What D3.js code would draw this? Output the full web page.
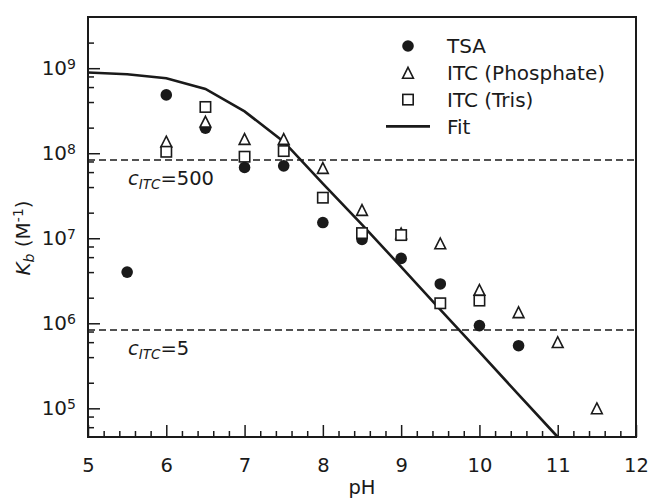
<!DOCTYPE html>
<html><head><meta charset="utf-8">
<script src="https://cdn.jsdelivr.net/npm/d3@7"></script>
<style>
body{margin:0;background:#fff}
text{font-family:"DejaVu Sans",sans-serif;fill:#1a1a1a}
</style>
</head><body>
<svg id="chart" width="650" height="498"></svg>
<script>
// ---- data ----
const tsaPH  = [5.5, 6, 6.5, 7, 7.5, 8, 8.5, 9, 9.5, 10, 10.5];
const tsaKb  = [4.0e6, 4.85e8, 1.97e8, 6.8e7, 7.1e7, 1.53e7, 9.7e6, 5.8e6, 2.9e6, 9.4e5, 5.45e5];
const phosPH = [6, 6.5, 7, 7.5, 8, 8.5, 9, 9.5, 10, 10.5, 11, 11.5];
const phosKb = [1.37e8, 2.35e8, 1.47e8, 1.47e8, 6.7e7, 2.15e7, 1.14e7, 8.7e6, 2.47e6, 1.35e6, 6.0e5, 1.0e5];
const trisPH = [6, 6.5, 7, 7.5, 8, 8.5, 9, 9.5, 10];
const trisKb = [1.04e8, 3.5e8, 9.1e7, 1.06e8, 3.0e7, 1.15e7, 1.09e7, 1.72e6, 1.85e6];
const fitPH  = [5, 5.5, 6, 6.5, 7, 7.5, 8, 8.5, 9, 9.5, 10, 10.5, 11];
const fitKb  = [8.9e8, 8.5e8, 7.6e8, 5.7e8, 3.1e8, 1.37e8, 4.4e7, 1.45e7, 4.6e6, 1.45e6, 4.6e5, 1.45e5, 4.6e4];
const cValues = [500, 5];
const cKb     = [8.33e7, 8.33e5];
const xTickValues = [5, 6, 7, 8, 9, 10, 11, 12];
const yTickExps   = [5, 6, 7, 8, 9];
const legendLabels = ["TSA", "ITC (Phosphate)", "ITC (Tris)", "Fit"];

// ---- layout ----
const W = 650, H = 498;
const m = {left: 88, right: 14, top: 17, bottom: 61};
const ink = "#1a1a1a";
const svg = d3.select("#chart");

const x = d3.scaleLinear().domain([5, 12]).range([m.left, W - m.right]);
const y = d3.scaleLog().domain([4.6e4, 4e9]).range([H - m.bottom, m.top]);

// minor ticks
const xMinor = d3.range(5, 12.0001, 0.2).map(v => +v.toFixed(2)).filter(v => Math.abs(v - Math.round(v)) > 1e-6);
const yMinor = [];
for (let e = 4; e <= 9; e++) for (const k of [2, 4, 6, 8]) {
  const v = k * Math.pow(10, e);
  if (v > y.domain()[0] && v < y.domain()[1]) yMinor.push(v);
}

// bottom axis
const gx = svg.append("g").attr("transform", `translate(0,${H - m.bottom})`)
  .call(d3.axisBottom(x).tickValues(xTickValues).tickSize(-12).tickSizeOuter(0).tickPadding(21).tickFormat(d3.format("d")));
svg.append("g").attr("transform", `translate(0,${H - m.bottom})`)
  .call(d3.axisBottom(x).tickValues(xMinor).tickSize(-6).tickSizeOuter(0).tickFormat(""));

// left axis
const gy = svg.append("g").attr("transform", `translate(${m.left},0)`)
  .call(d3.axisLeft(y).tickValues(yTickExps.map(e => Math.pow(10, e))).tickSize(-12).tickSizeOuter(0).tickPadding(12).tickFormat(""));
svg.append("g").attr("transform", `translate(${m.left},0)`)
  .call(d3.axisLeft(y).tickValues(yMinor).tickSize(-6).tickSizeOuter(0).tickFormat(""));

svg.selectAll(".domain").remove();
svg.selectAll(".tick line").attr("stroke", ink).attr("stroke-width", 1.5);
gx.selectAll("text").attr("font-size", 19.5).attr("fill", ink).style("font-family", "DejaVu Sans");

gy.selectAll(".tick text").each(function(d) {
  const t = d3.select(this).attr("font-size", 20).attr("fill", ink).style("font-family", "DejaVu Sans");
  t.text("10");
  t.append("tspan").attr("font-size", 14).attr("dy", "-0.45em").text(String(Math.round(Math.log10(d))));
});

// frame
svg.append("rect").attr("x", m.left).attr("y", m.top)
  .attr("width", W - m.left - m.right).attr("height", H - m.top - m.bottom)
  .attr("fill", "none").attr("stroke", ink).attr("stroke-width", 2);

// axis titles
svg.append("text").attr("x", x(8.5)).attr("y", 494).attr("text-anchor", "middle")
  .attr("font-size", 19.5).text("pH");
const yl = svg.append("text").attr("transform", `translate(30,238) rotate(-90)`)
  .attr("text-anchor", "middle").attr("font-size", 20);
yl.append("tspan").attr("font-style", "italic").text("K");
yl.append("tspan").attr("font-style", "italic").attr("font-size", 14).attr("dy", "0.3em").text("b");
yl.append("tspan").attr("dy", "-0.2em").text(" (M");
yl.append("tspan").attr("font-size", 14).attr("dy", "-0.5em").text("-1");
yl.append("tspan").attr("dy", "0.35em").text(")");

// c_ITC dashed lines
const plot = svg.append("g");
cKb.forEach((v, i) => {
  plot.append("line").attr("x1", m.left).attr("x2", W - m.right)
    .attr("y1", y(v)).attr("y2", y(v))
    .attr("stroke", ink).attr("stroke-width", 1.6).attr("stroke-dasharray", "7,4");
  const t = plot.append("text").attr("x", 128).attr("y", y(v) + 25).attr("font-size", 19.5);
  t.append("tspan").attr("font-style", "italic").text("c");
  t.append("tspan").attr("font-style", "italic").attr("font-size", 13.5).attr("dy", 4).text("ITC");
  t.append("tspan").attr("dy", -4).text("=" + cValues[i]);
});

// fit line
const fitData = fitPH.map((p, i) => [p, fitKb[i]]);
plot.append("path").datum(fitData)
  .attr("d", d3.line().x(d => x(d[0])).y(d => y(d[1])))
  .attr("fill", "none").attr("stroke", ink).attr("stroke-width", 2.6);

// markers
const triPath = s => `M0,${-s}L${s},${s}L${-s},${s}Z`;
function drawCircles(g, px, py) {
  g.append("circle").attr("cx", px).attr("cy", py).attr("r", 5.8).attr("fill", ink);
}
function drawTri(g, px, py) {
  g.append("path").attr("transform", `translate(${px},${py})`).attr("d", triPath(5.4))
    .attr("fill", "#fff").attr("stroke", ink).attr("stroke-width", 1.6).attr("stroke-linejoin", "miter");
}
function drawSq(g, px, py) {
  g.append("rect").attr("x", px - 5.2).attr("y", py - 5.2).attr("width", 10.4).attr("height", 10.4)
    .attr("fill", "#fff").attr("stroke", ink).attr("stroke-width", 1.6);
}
tsaPH.forEach((p, i) => drawCircles(plot, x(p), y(tsaKb[i])));
phosPH.forEach((p, i) => drawTri(plot, x(p), y(phosKb[i])));
trisPH.forEach((p, i) => drawSq(plot, x(p), y(trisKb[i])));

// legend
const lg = svg.append("g");
const ly0 = 46, lstep = 26.8, lmx = 408, ltx = 447;
legendLabels.forEach((lab, i) => {
  const yy = ly0 + i * lstep;
  if (i === 0) drawCircles(lg, lmx, yy);
  if (i === 1) drawTri(lg, lmx, yy);
  if (i === 2) drawSq(lg, lmx, yy);
  if (i === 3) lg.append("line").attr("x1", 386).attr("x2", 430).attr("y1", yy).attr("y2", yy)
    .attr("stroke", ink).attr("stroke-width", 2.6);
  lg.append("text").attr("x", ltx).attr("y", yy).attr("dy", "0.36em").attr("font-size", 20).text(lab);
});
</script>
</body></html>
